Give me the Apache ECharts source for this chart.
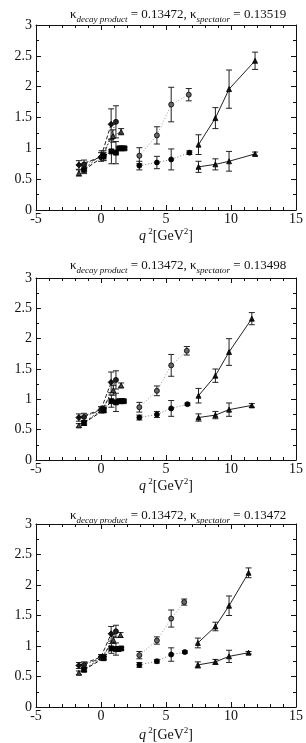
<!DOCTYPE html>
<html>
<head>
<meta charset="utf-8">
<script src="https://cdn.jsdelivr.net/npm/echarts@6/dist/echarts.min.js"></script>
<style>
html, body { margin: 0; padding: 0; background: #fff; }
#main { width: 306px; height: 743px; }
</style>
</head>
<body>
<div id="main"></div>
<script>
// kappa values shown in the panel titles
var kappaDecay = '0.13472';
var kappaSpectator = ['0.13519', '0.13498', '0.13472'];

var xTicks = [-5, 0, 5, 10, 15];
var yTicks = [0, 0.5, 1, 1.5, 2, 2.5, 3];

// each point: [q2, value, error]
// panel 1
var p1ClusterA = [[-1.7, 0.73, 0.07], [0.0, 0.86, 0.07], [0.78, 1.39, 0.25]];
var p1ClusterB = [[-1.3, 0.74, 0.07], [0.2, 0.88, 0.08], [1.15, 1.43, 0.26]];
var p1ClusterC = [[-1.7, 0.6, 0.05], [0.05, 0.9, 0.06], [0.92, 1.2, 0.1], [1.55, 1.27, 0.05]];
var p1ClusterD = [[-1.3, 0.65, 0.06], [0.2, 0.87, 0.06], [0.8, 0.95, 0.2], [1.15, 0.93, 0.18], [1.4, 1.0, 0.02], [1.6, 1.0, 0.02], [1.8, 1.0, 0.02]];
var p1MidUpper = [[2.95, 0.88, 0.13], [4.3, 1.21, 0.14], [5.4, 1.71, 0.28], [6.75, 1.87, 0.1]];
var p1MidLower = [[2.95, 0.72, 0.07], [4.3, 0.77, 0.1], [5.4, 0.82, 0.17], [6.8, 0.93, 0.03]];
var p1RightUpper = [[7.5, 1.06, 0.16], [8.8, 1.49, 0.17], [9.85, 1.96, 0.31], [11.85, 2.42, 0.14]];
var p1RightLower = [[7.5, 0.7, 0.09], [8.8, 0.74, 0.09], [9.85, 0.79, 0.16], [11.85, 0.91, 0.03]];

// panel 2
var p2ClusterA = [[-1.7, 0.7, 0.06], [0.0, 0.83, 0.05], [0.78, 1.28, 0.17]];
var p2ClusterB = [[-1.3, 0.71, 0.06], [0.2, 0.84, 0.05], [1.15, 1.32, 0.15]];
var p2ClusterC = [[-1.7, 0.57, 0.03], [0.05, 0.82, 0.04], [0.95, 1.15, 0.08], [1.55, 1.23, 0.04]];
var p2ClusterD = [[-1.3, 0.61, 0.04], [0.2, 0.82, 0.04], [0.8, 0.97, 0.1], [1.15, 0.95, 0.15], [1.4, 0.97, 0.02], [1.6, 0.97, 0.02], [1.75, 0.97, 0.02]];
var p2MidUpper = [[2.95, 0.87, 0.08], [4.3, 1.14, 0.08], [5.4, 1.56, 0.18], [6.6, 1.8, 0.07]];
var p2MidLower = [[2.95, 0.7, 0.04], [4.3, 0.75, 0.05], [5.4, 0.85, 0.13], [6.65, 0.92, 0.02]];
var p2RightUpper = [[7.5, 1.06, 0.12], [8.8, 1.39, 0.11], [9.85, 1.78, 0.22], [11.6, 2.33, 0.1]];
var p2RightLower = [[7.5, 0.7, 0.06], [8.8, 0.74, 0.06], [9.85, 0.83, 0.11], [11.6, 0.9, 0.03]];

// panel 3
var p3ClusterA = [[-1.7, 0.68, 0.05], [0.0, 0.82, 0.04], [0.78, 1.2, 0.12]];
var p3ClusterB = [[-1.3, 0.69, 0.05], [0.2, 0.82, 0.04], [1.15, 1.24, 0.1]];
var p3ClusterC = [[-1.7, 0.56, 0.03], [0.05, 0.81, 0.03], [0.95, 1.1, 0.06], [1.5, 1.18, 0.04]];
var p3ClusterD = [[-1.3, 0.61, 0.03], [0.2, 0.8, 0.03], [0.8, 0.96, 0.08], [1.15, 0.95, 0.1], [1.35, 0.95, 0.02], [1.55, 0.96, 0.02]];
var p3MidUpper = [[2.95, 0.85, 0.06], [4.3, 1.09, 0.06], [5.4, 1.45, 0.14], [6.4, 1.72, 0.05]];
var p3MidLower = [[2.95, 0.69, 0.04], [4.3, 0.75, 0.03], [5.4, 0.86, 0.11], [6.45, 0.9, 0.02]];
var p3RightUpper = [[7.45, 1.05, 0.08], [8.8, 1.32, 0.07], [9.85, 1.66, 0.16], [11.35, 2.2, 0.08]];
var p3RightLower = [[7.45, 0.69, 0.05], [8.8, 0.74, 0.04], [9.85, 0.83, 0.1], [11.35, 0.89, 0.02]];

var panels = [
    [p1ClusterA, p1ClusterB, p1ClusterC, p1ClusterD, p1MidUpper, p1MidLower, p1RightUpper, p1RightLower],
    [p2ClusterA, p2ClusterB, p2ClusterC, p2ClusterD, p2MidUpper, p2MidLower, p2RightUpper, p2RightLower],
    [p3ClusterA, p3ClusterB, p3ClusterC, p3ClusterD, p3MidUpper, p3MidLower, p3RightUpper, p3RightLower]
];

// look of each of the 8 curves, same order as above
var looks = [
    {symbol: 'diamond', size: 6, fill: '#111', line: 'dashed', lineColor: '#222'},
    {symbol: 'circle', size: 5, fill: '#222', line: [4, 2, 1, 2], lineColor: '#333'},
    {symbol: 'triangle', size: 5, fill: '#444', line: [2, 2], lineColor: '#444'},
    {symbol: 'rect', size: 5, fill: '#000', line: 'dashed', lineColor: '#111'},
    {symbol: 'circle', size: 5, fill: '#666', line: [1, 2], lineColor: '#999'},
    {symbol: 'circle', size: 5, fill: '#000', line: [1, 2], lineColor: '#777'},
    {symbol: 'triangle', size: 5, fill: '#111', line: 'solid', lineColor: '#222'},
    {symbol: 'triangle', size: 5, fill: '#111', line: 'solid', lineColor: '#222'}
];

var gridTops = [25, 278, 524];
var gridHeights = [185, 182, 186];
var titleTops = [0, 251, 501];
var nameGaps = [20, 24, 27];

var serif = '"Liberation Serif", "DejaVu Serif", serif';

function errorBars(data, idx) {
    return {
        type: 'custom',
        xAxisIndex: idx * 2,
        yAxisIndex: idx * 2,
        silent: true,
        z: 1,
        data: data.map(function (d) { return [d[0], d[1] - d[2], d[1] + d[2]]; }),
        encode: {x: 0, y: [1, 2]},
        renderItem: function (params, api) {
            var lo = api.coord([api.value(0), api.value(1)]);
            var hi = api.coord([api.value(0), api.value(2)]);
            var w = 3;
            var st = {stroke: '#222', lineWidth: 1};
            return {
                type: 'group',
                children: [
                    {type: 'line', shape: {x1: lo[0], y1: lo[1], x2: hi[0], y2: hi[1]}, style: st},
                    {type: 'line', shape: {x1: lo[0] - w, y1: lo[1], x2: lo[0] + w, y2: lo[1]}, style: st},
                    {type: 'line', shape: {x1: hi[0] - w, y1: hi[1], x2: hi[0] + w, y2: hi[1]}, style: st}
                ]
            };
        }
    };
}

var grid = [], xAxis = [], yAxis = [], title = [], series = [];

panels.forEach(function (curves, i) {
    grid.push({left: 36, right: 9, top: gridTops[i], height: gridHeights[i]});

    title.push({
        left: 65,
        top: titleTops[i],
        text: '{k|κ}{s|decay product}{k| = ' + kappaDecay + ', κ}{s|spectator}{k| = ' + kappaSpectator[i] + '}',
        textStyle: {
            fontWeight: 'normal',
            rich: {
                k: {fontFamily: serif, fontSize: 13, fontWeight: 'normal', color: '#111', lineHeight: 16, verticalAlign: 'bottom'},
                s: {fontFamily: serif, fontSize: 9, fontWeight: 'normal', fontStyle: 'italic', color: '#111', lineHeight: 12, verticalAlign: 'bottom', padding: [0, 0, -3, 0]}
            }
        }
    });

    var tickCommon = {
        type: 'value',
        gridIndex: i,
        axisLine: {show: true, onZero: false, lineStyle: {color: '#111', width: 1}},
        axisTick: {show: true, inside: true, length: 5, lineStyle: {color: '#111'}},
        splitLine: {show: false}
    };

    xAxis.push(Object.assign({}, tickCommon, {
        position: 'bottom',
        min: xTicks[0], max: xTicks[xTicks.length - 1], interval: 5,
        minorTick: {show: true, splitNumber: 5, length: 3, lineStyle: {color: '#111'}},
        axisLabel: {fontFamily: serif, fontSize: 14, color: '#111', margin: 2},
        name: '{i|q}{u| 2}{n|[GeV}{u|2}{n|]}',
        nameLocation: 'middle',
        nameGap: nameGaps[i],
        nameTextStyle: {
            verticalAlign: 'middle',
            rich: {
                i: {fontFamily: serif, fontSize: 14, fontStyle: 'italic', color: '#111', verticalAlign: 'bottom', lineHeight: 16},
                n: {fontFamily: serif, fontSize: 14, color: '#111', verticalAlign: 'bottom', lineHeight: 16},
                u: {fontFamily: serif, fontSize: 9, color: '#111', verticalAlign: 'top', lineHeight: 16}
            }
        }
    }));
    xAxis.push(Object.assign({}, tickCommon, {
        position: 'top',
        min: xTicks[0], max: xTicks[xTicks.length - 1], interval: 5,
        minorTick: {show: true, splitNumber: 5, length: 3, lineStyle: {color: '#111'}},
        axisLabel: {show: false}
    }));
    yAxis.push(Object.assign({}, tickCommon, {
        position: 'left',
        min: yTicks[0], max: yTicks[yTicks.length - 1], interval: 0.5,
        minorTick: {show: true, splitNumber: 2, length: 3, lineStyle: {color: '#111'}},
        axisLabel: {fontFamily: serif, fontSize: 14, color: '#111', margin: 4}
    }));
    yAxis.push(Object.assign({}, tickCommon, {
        position: 'right',
        min: yTicks[0], max: yTicks[yTicks.length - 1], interval: 0.5,
        minorTick: {show: true, splitNumber: 2, length: 3, lineStyle: {color: '#111'}},
        axisLabel: {show: false}
    }));

    curves.forEach(function (data, c) {
        var lk = looks[c];
        series.push(errorBars(data, i));
        series.push({
            type: 'line',
            xAxisIndex: i * 2,
            yAxisIndex: i * 2,
            z: 3,
            data: data.map(function (d) { return [d[0], d[1]]; }),
            symbol: lk.symbol,
            symbolSize: lk.size,
            showAllSymbol: true,
            itemStyle: {color: lk.fill, borderColor: '#000', borderWidth: 0.8},
            lineStyle: {color: lk.lineColor, width: 1, type: lk.line},
            animation: false
        });
    });
});

var chart = echarts.init(document.getElementById('main'));
chart.setOption({
    animation: false,
    title: title,
    grid: grid,
    xAxis: xAxis,
    yAxis: yAxis,
    series: series
});
</script>
</body>
</html>
